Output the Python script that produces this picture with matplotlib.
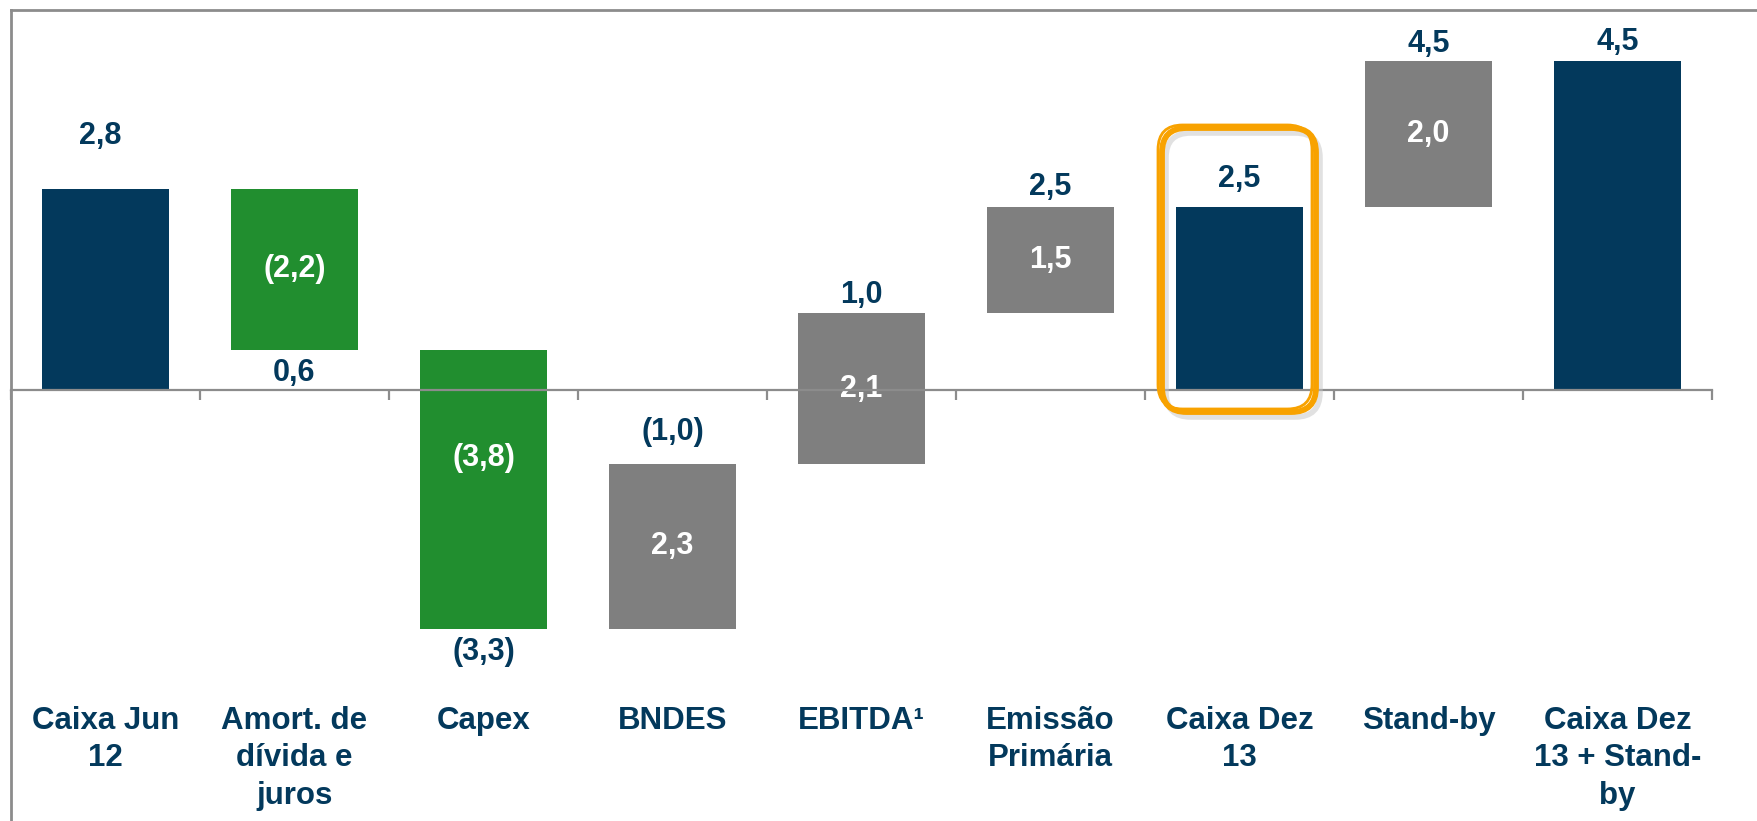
import matplotlib
matplotlib.use("Agg")
import matplotlib.pyplot as plt
from matplotlib.patches import FancyBboxPatch
from matplotlib.lines import Line2D
from matplotlib.transforms import blended_transform_factory
import numpy as np

plt.rcParams['font.family'] = ['Liberation Sans', 'DejaVu Sans']
plt.rcParams['font.weight'] = 'bold'

# waterfall data (R$ bi)
categories = ['Caixa Jun\n12', 'Amort. de\ndívida e\njuros', 'Capex', 'BNDES', 'EBITDA¹',
              'Emissão\nPrimária', 'Caixa Dez\n13', 'Stand-by', 'Caixa Dez\n13 + Stand-\nby']
bar_bottom = [0.0, 0.54, -3.28, -3.28, -1.02, 1.045, 0.0, 2.50, 0.0]
bar_top = [2.75, 2.75, 0.54, -1.02, 1.045, 2.50, 2.50, 4.50, 4.50]
kind = ['total', 'neg', 'neg', 'pos', 'pos', 'pos', 'total', 'pos', 'total']
outer_labels = ['2,8', '0,6', '(3,3)', '(1,0)', '1,0', '2,5', '2,5', '4,5', '4,5']
outer_side = ['top', 'bottom', 'bottom', 'top', 'top', 'top', 'top', 'top', 'top']
inner_labels = ['', '(2,2)', '(3,8)', '2,3', '2,1', '1,5', '', '2,0', '']

navy = '#03395C'
green = '#218E2F'
grey = '#7F7F7F'
colors = {'total': navy, 'neg': green, 'pos': grey}

W, H = 1758, 821
fig = plt.figure(figsize=(W / 100, H / 100), dpi=100)
ax = fig.add_axes([11 / W, (H - 680) / H, 1701 / W, 670 / H])

x = np.arange(len(categories))
heights = np.array(bar_top) - np.array(bar_bottom)
ax.bar(x, heights, bottom=bar_bottom, width=0.667,
       color=[colors[k] for k in kind], zorder=2)

ax.set_xlim(-0.5, len(categories) - 0.5)
ax.set_ylim(-3.979, 5.199)

# axis at zero with boundary ticks
for s in ['top', 'right', 'left']:
    ax.spines[s].set_visible(False)
ax.spines['bottom'].set_position(('data', 0))
ax.spines['bottom'].set_color('#8C8C8C')
ax.spines['bottom'].set_linewidth(1.6)
ax.spines['bottom'].set_zorder(3)
ax.set_xticks(np.arange(-0.5, len(categories), 1.0))
ax.tick_params(axis='x', direction='out', length=7, width=1.6, color='#8C8C8C',
               labelbottom=False)
ax.set_yticks([])

# extra gap above some value labels (px)
top_pad = [45, 12, 11, 24, 10, 12, 20, 9, 11]
for i in range(len(categories)):
    if outer_side[i] == 'top':
        ax.annotate(outer_labels[i], (x[i] - (0.03 if i == 0 else 0), bar_top[i]),
                    xytext=(0, top_pad[i] * 0.72),
                    textcoords='offset points', ha='center', va='baseline',
                    fontsize=22, color=navy, fontweight='bold')
    else:
        ax.annotate(outer_labels[i], (x[i], bar_bottom[i]), xytext=(0, -6),
                    textcoords='offset points', ha='center', va='top',
                    fontsize=22, color=navy, fontweight='bold')
    if inner_labels[i]:
        ymid = (bar_top[i] + bar_bottom[i]) / 2
        if categories[i] == 'Capex':
            ymid = ymid + 0.43
        ax.text(x[i], ymid, inner_labels[i], ha='center', va='center',
                fontsize=22, color='white', fontweight='bold')

# category labels under the chart
trans = blended_transform_factory(ax.transData, fig.transFigure)
for i, c in enumerate(categories):
    ax.text(x[i], 1 - 706 / H, c, transform=trans, ha='center', va='top',
            fontsize=22.5, color=navy, fontweight='bold', linespacing=1.32)

# slide frame lines
fig.add_artist(Line2D([11 / W, 11 / W], [0, 1 - 10 / H], color='#8C8C8C', lw=2))
fig.add_artist(Line2D([11 / W, 1], [1 - 10 / H, 1 - 10 / H], color='#8C8C8C', lw=2))

# hand drawn highlight round "Caixa Dez 13"
x0, x1 = 1162 / W, 1316 / W
y0, y1 = 1 - 412 / H, 1 - 128 / H
asp = W / H
shadow = FancyBboxPatch((x0 + 4 / W, y0 - 5 / H), x1 - x0, y1 - y0,
                        boxstyle='round,pad=0,rounding_size=0.014', mutation_aspect=asp,
                        transform=fig.transFigure, fill=False, ec='#C4C4C4', lw=4,
                        alpha=0.5)
fig.add_artist(shadow)
for dx, dy, lw in [(0, 0, 4.2), (-4, 3, 2.0)]:
    frame = FancyBboxPatch((x0 + dx / W, y0 + dy / H), x1 - x0, y1 - y0,
                           boxstyle='round,pad=0,rounding_size=0.014', mutation_aspect=asp,
                           transform=fig.transFigure, fill=False, ec='#F8A200', lw=lw)
    fig.add_artist(frame)

fig.savefig('out.png', dpi=100)
